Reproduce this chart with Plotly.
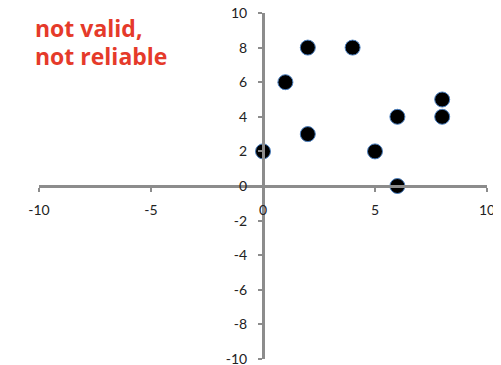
import plotly.graph_objects as go

x_vals = [0, 1, 2, 2, 4, 5, 6, 6, 8, 8]
y_vals = [2, 6, 8, 3, 8, 2, 4, 0, 5, 4]
x_ticks = [-10, -5, 0, 5, 10]
y_ticks = [-10, -8, -6, -4, -2, 0, 2, 4, 6, 8, 10]
title_lines = ["not valid,", "not reliable"]

fig = go.Figure()
fig.add_trace(go.Scatter(
    x=x_vals, y=y_vals, mode="markers",
    marker=dict(size=15, color="black", line=dict(color="#4a7fc0", width=1)),
    showlegend=False, cliponaxis=False,
))

axis_font = dict(family="Lato, Open Sans, sans-serif", size=14, color="#222")
title_font = dict(family="Open Sans, sans-serif", size=23, color="#e53a2a")
fig.update_layout(
    width=501, height=365,
    margin=dict(l=31, r=22, t=5, b=14),
    paper_bgcolor="white", plot_bgcolor="white",
    xaxis=dict(range=[-10, 10], tickvals=x_ticks, ticktext=[str(v) for v in x_ticks],
               showgrid=False, zeroline=False, showline=True, linecolor="#8c8c8c", linewidth=3,
               ticks="outside", ticklen=4, tickwidth=2, tickcolor="#8c8c8c",
               anchor="free", position=0.5, tickfont=axis_font, automargin=False,
               ticklabelstandoff=6, ticklabeloverflow="allow"),
    yaxis=dict(range=[-10, 10], tickvals=y_ticks, ticktext=[str(v) for v in y_ticks],
               showgrid=False, zeroline=False, showline=True, linecolor="#8c8c8c", linewidth=3,
               ticks="outside", ticklen=4, tickwidth=2, tickcolor="#8c8c8c",
               anchor="free", position=0.5, tickfont=axis_font, automargin=False,
               ticklabelstandoff=8, ticklabeloverflow="allow"),
    annotations=[
        dict(text="<b>%s</b>" % title_lines[0], xref="paper", yref="paper",
             x=-0.0125, y=0.958, xanchor="left", yanchor="middle", showarrow=False,
             font=title_font),
        dict(text="<b>%s</b>" % title_lines[1], xref="paper", yref="paper",
             x=-0.0125, y=0.877, xanchor="left", yanchor="middle", showarrow=False,
             font=title_font),
    ],
)

fig.write_html("out.html")
